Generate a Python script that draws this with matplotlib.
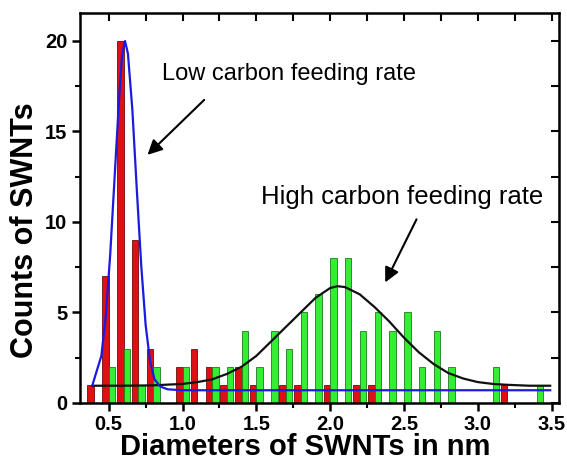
import matplotlib
matplotlib.use("Agg")
import matplotlib.pyplot as plt
from matplotlib.ticker import MultipleLocator

plt.rcParams['font.family'] = ['Liberation Sans', 'DejaVu Sans']

# bin centres (nm)
bins = [0.4, 0.5, 0.6, 0.7, 0.8, 0.9, 1.0, 1.1, 1.2, 1.3, 1.4, 1.5, 1.6, 1.7,
        1.8, 1.9, 2.0, 2.1, 2.2, 2.3, 2.4, 2.5, 2.6, 2.7, 2.8, 2.9, 3.0, 3.1,
        3.2, 3.3, 3.4]
low_counts = [1, 7, 20, 9, 3, 0, 2, 3, 2, 1, 2, 1, 0, 1,
              1, 0, 1, 0, 1, 1, 0, 0, 0, 0, 0, 0, 0, 0,
              1, 0, 0]
high_counts = [0, 2, 3, 1, 2, 0, 2, 0, 2, 2, 4, 2, 4, 3,
               5, 6, 8, 8, 4, 5, 4, 5, 2, 4, 2, 0, 0, 2,
               0, 0, 1]

# fitted curves
low_fit_x = [0.39, 0.45, 0.48, 0.51, 0.54, 0.57, 0.59, 0.61, 0.63, 0.66, 0.69,
             0.72, 0.75, 0.78, 0.81, 0.85, 0.90, 1.0, 1.5, 2.0, 2.5, 3.0, 3.49]
low_fit_y = [1.0, 2.6, 4.8, 8.2, 12.5, 16.8, 19.2, 20.0, 19.3, 16.2, 11.8,
             7.6, 4.3, 2.3, 1.3, 0.9, 0.75, 0.7, 0.7, 0.7, 0.7, 0.7, 0.7]
high_fit_x = [0.39, 0.6, 0.8, 1.0, 1.1, 1.2, 1.3, 1.4, 1.5, 1.6, 1.7, 1.8, 1.9,
              2.0, 2.05, 2.1, 2.2, 2.3, 2.4, 2.5, 2.6, 2.7, 2.8, 2.9, 3.0,
              3.1, 3.2, 3.35, 3.49]
high_fit_y = [0.95, 0.95, 0.97, 1.05, 1.15, 1.3, 1.6, 2.0, 2.6, 3.4, 4.2, 5.0, 5.8,
              6.35, 6.45, 6.4, 6.0, 5.3, 4.5, 3.6, 2.8, 2.15, 1.65, 1.35, 1.15,
              1.05, 1.0, 0.95, 0.95]

x_ticks = [0.5, 1.0, 1.5, 2.0, 2.5, 3.0, 3.5]
y_ticks = [0, 5, 10, 15, 20]

fig = plt.figure(figsize=(5.67, 4.61), dpi=100)
ax = fig.add_axes([0.141, 0.126, 0.845, 0.846])

w = 0.044
ax.bar([b - w / 2 for b in bins], low_counts, width=w, color='#e00f14',
       edgecolor='#6e0c0c', linewidth=0.6, zorder=2)
ax.bar([b + w / 2 for b in bins], high_counts, width=w, color='#33ee33',
       edgecolor='#1f7a1f', linewidth=0.6, zorder=2)
ax.plot(high_fit_x, high_fit_y, color='#111111', lw=1.6, zorder=3)
ax.plot(low_fit_x, low_fit_y, color='#1a1ae0', lw=1.6, zorder=4)

ax.set_xlim(0.305, 3.55)
ax.set_ylim(0, 21.55)
ax.set_xticks(x_ticks)
ax.set_xticklabels([f"{t:.1f}" for t in x_ticks])
ax.set_yticks(y_ticks)
ax.xaxis.set_minor_locator(MultipleLocator(0.25))
ax.yaxis.set_minor_locator(MultipleLocator(2.5))
ax.tick_params(which='major', direction='out', length=6, width=1.8,
               labelsize=14.5, pad=3)
ax.tick_params(which='minor', direction='out', length=3.5, width=1.5)
for lab in ax.get_xticklabels() + ax.get_yticklabels():
    lab.set_fontweight('bold')
for sp in ax.spines.values():
    sp.set_linewidth(1.8)

# inward ticks on top and right
top = ax.secondary_xaxis('top')
top.set_xticks([0.5 + 0.25 * i for i in range(13)])
top.tick_params(direction='in', length=6, width=1.5, labeltop=False)
right = ax.secondary_yaxis('right')
right.set_yticks([2.5 * i for i in range(9)])
right.tick_params(direction='in', length=6, width=1.5, labelright=False)

fig.text(305 / 567, 1 - 455 / 461, 'Diameters of SWNTs in nm', fontsize=21,
         fontweight='bold', ha='center', va='baseline')
fig.text(25 / 567, 1 - 230 / 461, 'Counts of SWNTs', fontsize=22,
         fontweight='bold', ha='center', va='center', rotation=90)

ax.annotate('', xy=(0.749, 13.6), xytext=(1.16, 16.85),
            arrowprops=dict(arrowstyle='-|>', color='black', lw=1.5,
                            mutation_scale=22))
ax.text(0.86, 18.2, 'Low carbon feeding rate', fontsize=17, va='center',
        ha='left')
ax.annotate('', xy=(2.364, 6.52), xytext=(2.593, 10.28),
            arrowprops=dict(arrowstyle='-|>', color='black', lw=1.5,
                            mutation_scale=22))
ax.text(1.53, 11.38, 'High carbon feeding rate', fontsize=18.5, va='center',
        ha='left')

fig.savefig('out.png', dpi=100)
